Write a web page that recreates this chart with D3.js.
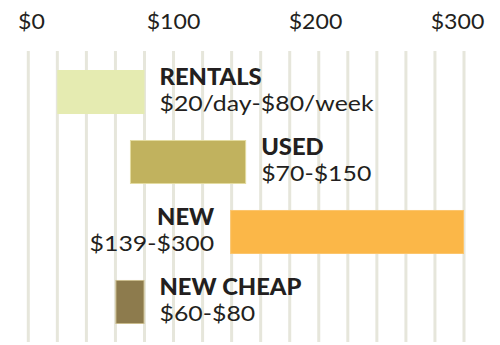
<!DOCTYPE html>
<html>
<head>
<meta charset="utf-8">
<script src="https://cdn.jsdelivr.net/npm/d3@7"></script>
<style>
  html, body { margin: 0; padding: 0; background: #fff; }
  svg text { font-family: Lato, "Open Sans", sans-serif; fill: #231f20; }
  .name { font-size: 22px; font-weight: 900; }
  .range { font-size: 22px; font-weight: 400; }
</style>
</head>
<body>
<svg id="chart" width="500" height="345"></svg>
<script>
// Price ranges for bikes, in dollars
const categories = ["RENTALS", "USED", "NEW", "NEW CHEAP"];
const lowValues  = [20, 70, 139, 60];
const highValues = [80, 150, 300, 80];
const rangeLabels = ["$20/day-$80/week", "$70-$150", "$139-$300", "$60-$80"];
const barColors = ["#e5ebb1", "#c1b25e", "#fbb748", "#8d7b4d"];
const barStrokes = ["#e5ebb1", "#e3dba0", "#fcc56c", "#c9bb8c"];
const labelSide = ["right", "right", "left", "right"];
const tickValues = [0, 100, 200, 300];
const gridStep = 20;

const svg = d3.select("#chart");

const x = d3.scaleLinear().domain([0, 300]).range([28.3, 464]);
// tick labels sit on a slightly narrower span than the grid
const xLabel = d3.scaleLinear().domain([0, 300]).range([31, 457]);
const y = d3.scaleBand().domain(categories).range([70, 324]).paddingInner(0.371).paddingOuter(0);

// vertical grid every $20
svg.append("g")
  .selectAll("line")
  .data(d3.range(0, 300 + gridStep, gridStep))
  .join("line")
  .attr("x1", d => x(d)).attr("x2", d => x(d))
  .attr("y1", 51).attr("y2", 342)
  .attr("stroke", "#e6e6db")
  .attr("stroke-width", 3);

// top axis labels
const axis = svg.append("g")
  .attr("transform", "translate(0,29)")
  .call(d3.axisTop(xLabel).tickValues(tickValues).tickSize(0).tickPadding(0).tickFormat(d => "$" + d));
axis.select(".domain").remove();
axis.attr("font-family", null).attr("font-size", 21);
axis.selectAll(".tick text").attr("fill", null).attr("transform", "scale(1.1,1)");

const rows = categories.map((c, i) => ({
  name: c, lo: lowValues[i], hi: highValues[i], label: rangeLabels[i],
  color: barColors[i], stroke: barStrokes[i], side: labelSide[i]
}));

// bars
svg.append("g")
  .selectAll("rect")
  .data(rows)
  .join("rect")
  .attr("x", d => x(d.lo) + 0.5)
  .attr("y", d => y(d.name) + 0.5)
  .attr("width", d => x(d.hi) - x(d.lo) - 1)
  .attr("height", y.bandwidth() - 1)
  .attr("fill", d => d.color)
  .attr("stroke", d => d.stroke)
  .attr("stroke-width", 1);

// labels beside each bar
const lab = svg.append("g")
  .selectAll("g")
  .data(rows)
  .join("g")
  .attr("transform", d => d.side === "right"
    ? `translate(${x(d.hi) + 15},${y(d.name)})`
    : `translate(${x(d.lo) - 16},${y(d.name)})`)
  .attr("text-anchor", d => d.side === "right" ? "start" : "end");

lab.append("text").attr("class", "name")
  .attr("transform", "translate(0,15) scale(1.08,1)").text(d => d.name);
lab.append("text").attr("class", "range")
  .attr("transform", "translate(0,41) scale(1.13,1)").text(d => d.label);
</script>
</body>
</html>
